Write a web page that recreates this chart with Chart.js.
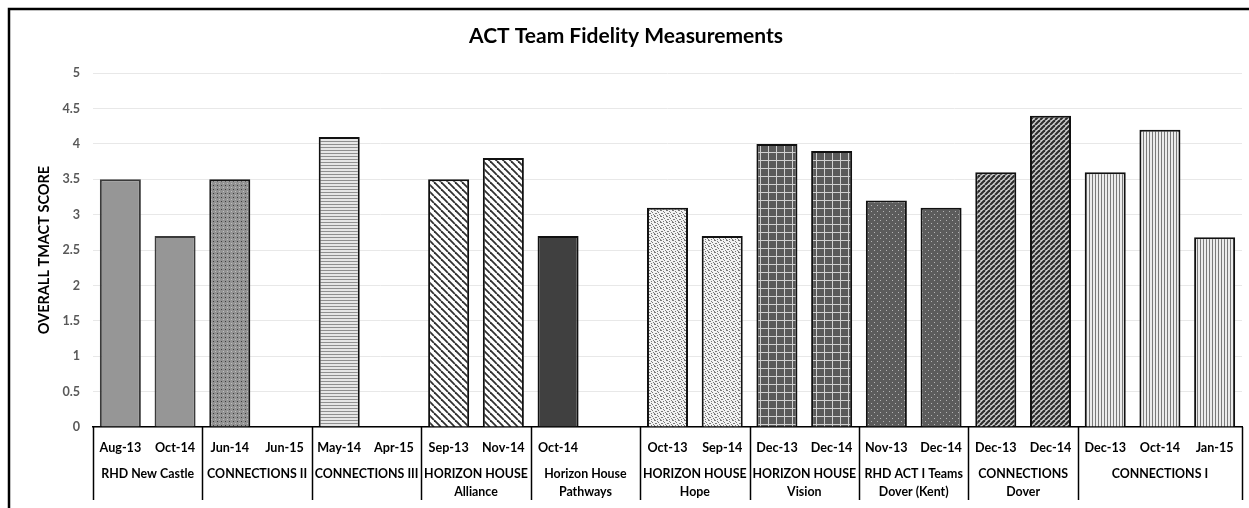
<!DOCTYPE html>
<html>
<head>
<meta charset="utf-8">
<script src="https://cdn.jsdelivr.net/npm/chart.js@4/dist/chart.umd.min.js"></script>
<style>
  html, body { margin: 0; padding: 0; background: #fff; }
  #chart { display: block; }
</style>
</head>
<body>
<canvas id="chart" width="1249" height="508"></canvas>
<script>
// tick labels under each bar
const dates = ['Aug-13', 'Oct-14', 'Jun-14', 'Jun-15', 'May-14', 'Apr-15', 'Sep-13', 'Nov-14',
  'Oct-14', '', 'Oct-13', 'Sep-14', 'Dec-13', 'Dec-14', 'Nov-13', 'Dec-14',
  'Dec-13', 'Dec-14', 'Dec-13', 'Oct-14', 'Jan-15'];
const scores = [3.5, 2.7, 3.5, null, 4.1, null, 3.5, 3.8,
  2.7, null, 3.1, 2.7, 4.0, 3.9, 3.2, 3.1,
  3.6, 4.4, 3.6, 4.2, 2.68];
// team groups (second level of the axis)
const teams = [['RHD New Castle'], ['CONNECTIONS II'], ['CONNECTIONS III'], ['HORIZON HOUSE', 'Alliance'],
  ['Horizon House', 'Pathways'], ['HORIZON HOUSE', 'Hope'], ['HORIZON HOUSE', 'Vision'],
  ['RHD ACT I Teams', 'Dover (Kent)'], ['CONNECTIONS', 'Dover'], ['CONNECTIONS I']];
const teamSizes = [2, 2, 2, 2, 2, 2, 2, 2, 2, 3];

const FONT = 'Lato, "Open Sans", sans-serif';

function tile(w, h, paint) {
  const c = document.createElement('canvas');
  c.width = w; c.height = h;
  const g = c.getContext('2d');
  paint(g, w, h);
  return document.getElementById('chart').getContext('2d').createPattern(c, 'repeat');
}

const fills = {
  solid: '#969696',
  dark: '#404040',
  dots: tile(4, 4, (g) => {
    g.fillStyle = '#939393'; g.fillRect(0, 0, 4, 4);
    g.fillStyle = '#3c3c3c'; g.fillRect(1, 1, 1, 1);
    g.fillStyle = '#bdbdbd'; g.fillRect(3, 3, 1, 1);
  }),
  hstripe: tile(4, 3, (g) => {
    g.fillStyle = '#e6e6e6'; g.fillRect(0, 0, 4, 3);
    g.fillStyle = '#8f8f8f'; g.fillRect(0, 0, 4, 1);
  }),
  wideDown: tile(7, 7, (g) => {
    g.fillStyle = '#ffffff'; g.fillRect(0, 0, 7, 7);
    g.strokeStyle = '#303030'; g.lineWidth = 1.8;
    for (const o of [-7, 0, 7]) {
      g.beginPath(); g.moveTo(o, 0); g.lineTo(o + 7, 7); g.stroke();
    }
  }),
  confetti: tile(6, 6, (g) => {
    g.fillStyle = '#f2f2f2'; g.fillRect(0, 0, 6, 6);
    g.fillStyle = '#7a7a7a';
    [[0, 0], [1, 0], [3, 1], [4, 2], [1, 3], [2, 3], [5, 4], [3, 5], [0, 5]].forEach(([x, y]) => g.fillRect(x, y, 1, 1));
  }),
  grid: tile(8, 8, (g) => {
    g.fillStyle = '#5a5a5a'; g.fillRect(0, 0, 8, 8);
    g.fillStyle = '#d0d0d0'; g.fillRect(0, 0, 8, 1); g.fillRect(0, 0, 1, 8);
  }),
  darkDots: tile(6, 6, (g) => {
    g.fillStyle = '#5c5c5c'; g.fillRect(0, 0, 6, 6);
    g.fillStyle = '#b4b4b4'; g.fillRect(1, 1, 1, 1); g.fillRect(4, 4, 1, 1);
  }),
  narrowUp: tile(5, 5, (g) => {
    g.fillStyle = '#d0d0d0'; g.fillRect(0, 0, 5, 5);
    g.strokeStyle = '#2e2e2e'; g.lineWidth = 2.2;
    for (const o of [-5, 0, 5]) {
      g.beginPath(); g.moveTo(o, 5); g.lineTo(o + 5, 0); g.stroke();
    }
  }),
  vstripe: tile(3, 4, (g) => {
    g.fillStyle = '#ececec'; g.fillRect(0, 0, 3, 4);
    g.fillStyle = '#7a7a7a'; g.fillRect(0, 0, 1, 4);
  }),
};

const teamFill = ['solid', 'dots', 'hstripe', 'wideDown', 'dark', 'confetti', 'grid', 'darkDots', 'narrowUp', 'vstripe'];
const barFills = [];
const barBorders = [];
teamSizes.forEach((n, t) => {
  for (let i = 0; i < n; i++) {
    barFills.push(fills[teamFill[t]]);
    barBorders.push(t === 0 ? '#3a3a3a' : '#111111');
  }
});

// outer frame, team separators and team names
const groupAxis = {
  id: 'groupAxis',
  beforeDraw(chart) {
    const { ctx } = chart;
    ctx.save();
    ctx.strokeStyle = '#000';
    ctx.lineWidth = 2.5;
    ctx.beginPath();
    ctx.moveTo(9, 508); ctx.lineTo(9, 9); ctx.lineTo(1249, 9);
    ctx.stroke();
    ctx.restore();
  },
  afterDraw(chart) {
    const { ctx, chartArea } = chart;
    const x = chart.scales.x;
    const y0 = chartArea.bottom;
    ctx.save();
    ctx.strokeStyle = '#000';
    ctx.lineWidth = 1.5;
    let start = 0;
    const edges = [0];
    teamSizes.forEach((n) => { start += n; edges.push(start); });
    edges.forEach((b) => {
      const px = Math.round(x.getPixelForValue(b - 0.5)) + 0.5;
      ctx.beginPath(); ctx.moveTo(px, y0); ctx.lineTo(px, y0 + 73); ctx.stroke();
    });
    ctx.fillStyle = '#000';
    ctx.font = 'bold 12.4px ' + FONT;
    ctx.textAlign = 'center';
    ctx.textBaseline = 'middle';
    teams.forEach((lines, t) => {
      const cx = (x.getPixelForValue(edges[t] - 0.5) + x.getPixelForValue(edges[t + 1] - 0.5)) / 2;
      lines.forEach((s, k) => ctx.fillText(s, cx, y0 + 47 + k * 18));
    });
    ctx.restore();
  },
};

new Chart(document.getElementById('chart'), {
  type: 'bar',
  data: {
    labels: dates,
    datasets: [{
      data: scores,
      backgroundColor: barFills,
      borderColor: barBorders,
      borderWidth: 2,
      categoryPercentage: 1,
      barPercentage: 0.75,
    }],
  },
  options: {
    responsive: false,
    animation: false,
    devicePixelRatio: 1,
    layout: { padding: { left: 10, right: 7, top: 0, bottom: 0 } },
    plugins: {
      legend: { display: false },
      tooltip: { enabled: false },
      title: {
        display: true,
        text: 'ACT Team Fidelity Measurements',
        color: '#000',
        font: { family: FONT, size: 21, weight: 'bold' },
        lineHeight: 1.2,
        padding: { top: 24, bottom: 24 },
      },
    },
    scales: {
      x: {
        grid: { display: false, drawTicks: false },
        border: { display: true, color: '#000', width: 1.5 },
        ticks: {
          autoSkip: false, maxRotation: 0, padding: 13, color: '#000',
          font: { family: FONT, size: 12.6, weight: 'bold' },
        },
        afterFit(s) { s.height = 81; },
      },
      y: {
        min: 0, max: 5,
        ticks: {
          stepSize: 0.5, padding: 13, color: '#595959',
          font: { family: FONT, size: 12.6, weight: 'bold' },
          callback: (v) => String(Math.round(v * 10) / 10),
        },
        grid: { color: '#e8e8e8', lineWidth: 1, drawTicks: false },
        border: { display: false },
        title: {
          display: true, text: 'OVERALL TMACT SCORE', color: '#000',
          font: { family: FONT, size: 14.5, weight: 'bold' },
          padding: { top: 26 },
        },
        afterFit(s) { s.width = 83; },
      },
    },
  },
  plugins: [groupAxis],
});
</script>
</body>
</html>
